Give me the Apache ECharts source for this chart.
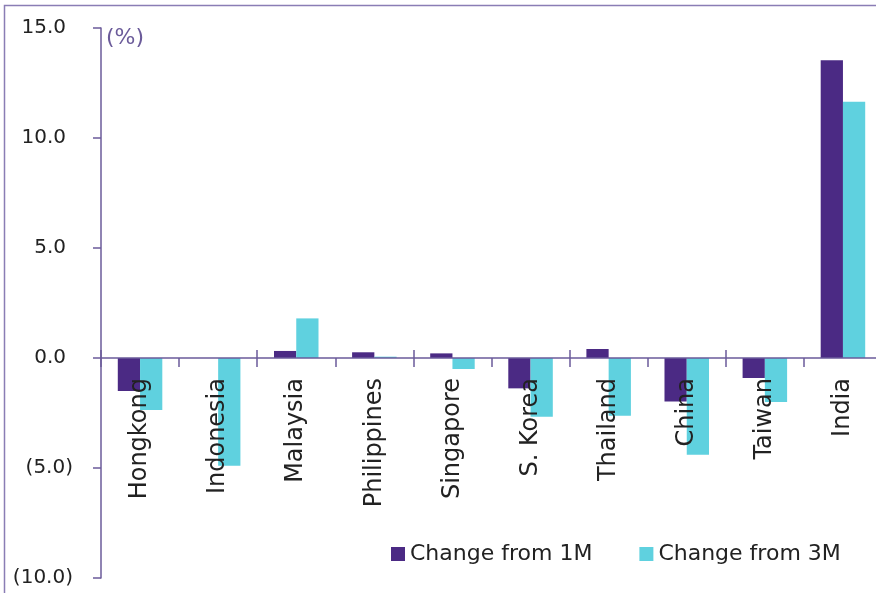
<!DOCTYPE html>
<html>
<head>
<meta charset="utf-8">
<script src="https://cdn.jsdelivr.net/npm/echarts@6/dist/echarts.min.js"></script>
<style>
  html, body { margin: 0; padding: 0; background: #fff; }
  #main { width: 876px; height: 593px; }
</style>
</head>
<body>
<div id="main"></div>
<script>
// data
const countries = ['Hongkong', 'Indonesia', 'Malaysia', 'Philippines', 'Singapore',
                   'S. Korea', 'Thailand', 'China', 'Taiwan', 'India'];
const change1M = [-1.5, 0.0, 0.32, 0.26, 0.21, -1.38, 0.41, -1.98, -0.91, 13.53];
const change3M = [-2.36, -4.9, 1.8, 0.06, -0.5, -2.67, -2.62, -4.4, -2.0, 11.65];

const purple = '#4B2A84';
const cyan = '#5FD1DF';
const axisColor = '#6B5B9A';
const textColor = '#222';
const font = 'DejaVu Sans';

const chart = echarts.init(document.getElementById('main'), null, { renderer: 'canvas' });

const fmt = function (v) {
  if (v < 0) return '(' + Math.abs(v).toFixed(1) + ')';
  return v.toFixed(1) + '{s|}';
};

// main plot spans -10..15; zero sits 15/25 of the way down
const plotTop = 28, plotBottom = 15, plotH = 593 - plotTop - plotBottom;
const zeroY = plotTop + plotH * 15 / 25;
const base = { left: 101, right: -6, containLabel: false, outerBoundsMode: 'none' };

const option = {
  backgroundColor: '#FFFFFF',
  animation: false,
  textStyle: { fontFamily: font },
  grid: [
    Object.assign({ top: plotTop, bottom: plotBottom }, base),      // bars
    Object.assign({ top: plotTop, bottom: 593 - zeroY }, base),     // category axis on the zero line
    Object.assign({ top: plotTop, bottom: 593 - zeroY - 9 }, base)  // full crossing ticks
  ],
  graphic: [
    {
      type: 'rect',
      shape: { x: 4.5, y: 5.5, width: 900, height: 700 },
      style: { fill: 'none', stroke: '#8A7DB5', lineWidth: 1.5 }
    },
    {
      type: 'text',
      left: 106,
      top: 27,
      style: { text: '(%)', fill: axisColor, font: '22px ' + font }
    }
  ],
  legend: {
    left: 386,
    top: 538,
    icon: 'rect',
    itemWidth: 14,
    itemHeight: 14,
    itemGap: 47,
    itemTextGap: 6,
    textStyle: { fontSize: 22, color: textColor, fontFamily: font },
    data: ['Change from 1M', 'Change from 3M']
  },
  xAxis: [
    { type: 'category', gridIndex: 0, data: countries, show: false },
    {
      type: 'category',
      gridIndex: 1,
      z: 10,
      data: countries,
      position: 'bottom',
      axisLine: { show: true, onZero: false, lineStyle: { color: axisColor, width: 1.5 } },
      axisTick: { show: true, length: 9, lineStyle: { color: axisColor, width: 1.5 } },
      axisLabel: {
        interval: 0, rotate: 90, margin: 20,
        fontSize: 24, color: textColor, fontFamily: font
      }
    },
    {
      type: 'category',
      gridIndex: 2,
      z: 10,
      data: countries,
      position: 'bottom',
      axisLine: { show: false, onZero: false },
      axisTick: { show: true, inside: true, length: 17, lineStyle: { color: axisColor, width: 1.5 } },
      axisLabel: { show: false }
    }
  ],
  yAxis: [
    {
      type: 'value',
      gridIndex: 0,
      min: -10,
      max: 15,
      interval: 5,
      splitLine: { show: false },
      axisLine: { show: true, lineStyle: { color: axisColor, width: 1.5 } },
      axisTick: { show: true, length: 8, lineStyle: { color: axisColor, width: 1.5 } },
      axisLabel: {
        margin: 28,
        fontSize: 20,
        color: textColor,
        fontFamily: font,
        formatter: fmt,
        rich: { s: { width: 7 } }
      }
    },
    { type: 'value', gridIndex: 1, min: 0, max: 1, show: false },
    { type: 'value', gridIndex: 2, min: 0, max: 1, show: false }
  ],
  series: [
    {
      name: 'Change from 1M',
      type: 'bar',
      data: change1M,
      itemStyle: { color: purple },
      barGap: '0%',
      barCategoryGap: '43%'
    },
    {
      name: 'Change from 3M',
      type: 'bar',
      data: change3M,
      itemStyle: { color: cyan },
      barGap: '0%',
      barCategoryGap: '43%'
    }
  ]
};

chart.setOption(option);
</script>
</body>
</html>
